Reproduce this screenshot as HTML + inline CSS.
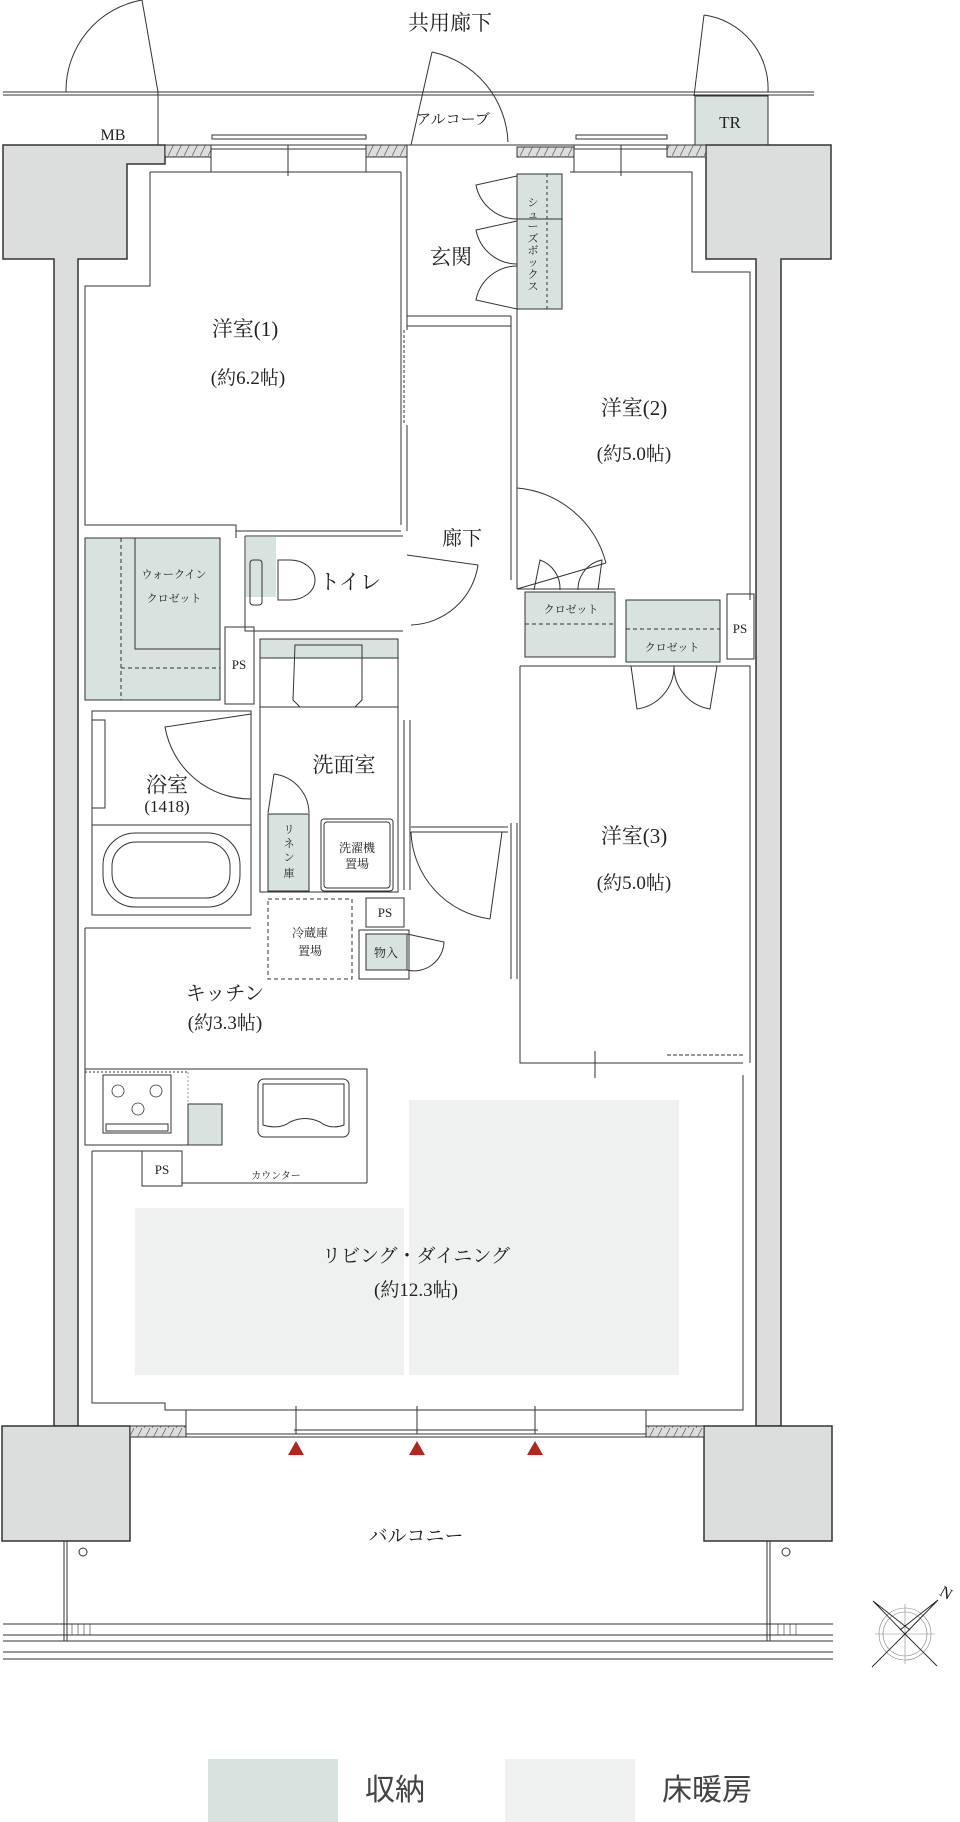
<!DOCTYPE html>
<html><head><meta charset="utf-8"><style>
html,body{margin:0;padding:0;background:#fff;}
svg{display:block;}
text{font-family:"Liberation Serif","Noto Serif CJK SC","Noto Sans CJK JP",serif;fill:#222;}
</style></head><body>
<svg width="960" height="1822" viewBox="0 0 960 1822" xmlns="http://www.w3.org/2000/svg">
<defs>
<pattern id="h" width="8" height="12" patternUnits="userSpaceOnUse"><rect width="8" height="12" fill="#dcdddd"/><line x1="0" y1="12" x2="6" y2="0" stroke="#555" stroke-width="0.7"/></pattern>
</defs>
<g stroke="#333" stroke-width="1" fill="none">
<!-- corridor -->
<line x1="3" y1="92" x2="814" y2="92"/><line x1="3" y1="95" x2="814" y2="95"/>
<path d="M66,92 A92,92 0 0 1 142,0"/><line x1="142" y1="0" x2="158" y2="92"/>
<line x1="158" y1="92" x2="158" y2="145"/>
<rect x="695" y="96" width="73" height="49" fill="#d8e3e0"/>
<path d="M768,92 A74,74 0 0 0 704,15"/><line x1="704" y1="15" x2="694" y2="96"/>
<path d="M508,142 A96,96 0 0 0 432,52"/><line x1="432" y1="52" x2="411" y2="145"/>
<!-- top wall -->
<line x1="3" y1="145" x2="831" y2="145"/>
<path d="M3,145 H165 V164 H127 V259 H78 V1426 H54 V259 H3 Z" fill="#dcdddd" stroke-width="1.5"/>
<path d="M706,145 H831 V259 H781 V1426 H756 V259 H706 Z" fill="#dcdddd" stroke-width="1.5"/>
<rect x="165" y="145" width="46" height="12" fill="url(#h)"/>
<rect x="366" y="145" width="41" height="12" fill="url(#h)"/>
<rect x="517" y="147" width="57" height="10" fill="url(#h)"/>
<rect x="667" y="145" width="39" height="12" fill="url(#h)"/>
<rect x="212" y="135" width="154" height="4"/><rect x="576" y="135" width="91" height="4"/>
<line x1="211" y1="149" x2="366" y2="149"/><line x1="574" y1="149" x2="667" y2="149"/>
<line x1="211" y1="145" x2="211" y2="172"/><line x1="366" y1="145" x2="366" y2="172"/>
<line x1="288" y1="145" x2="288" y2="176"/><line x1="621" y1="145" x2="621" y2="176"/>
<line x1="574" y1="145" x2="574" y2="172"/>
<!-- room1 -->
<path d="M150,172 H401 M150,172 V286 H85 V525 H236 V531 H401 M401,172 V525 M407,157 V330 M407,425 V531"/>
<line x1="404" y1="330" x2="404" y2="425" stroke-dasharray="3,2"/>
<!-- genkan -->
<line x1="407" y1="316" x2="511" y2="316"/><line x1="407" y1="326" x2="511" y2="326"/>
<rect x="517" y="174" width="45" height="135" fill="#d8e3e0"/>
<line x1="517" y1="219" x2="562" y2="219"/><line x1="547" y1="174" x2="547" y2="309" stroke-dasharray="3,3"/>
<path d="M517,176 L476,185 A42,42 0 0 0 517,219"/>
<path d="M517,221 L476,230 A42,42 0 0 0 517,264"/>
<path d="M517,309 L476,300 A42,42 0 0 1 517,266"/>
<path d="M511,316 V580 M517,309 V589"/>
<!-- room2 -->
<path d="M570,172 H692 V272 H750 V600 M517,589 H615"/>
<path d="M517,488 A101,101 0 0 1 606,563"/><line x1="517" y1="589" x2="606" y2="563"/>
<path d="M534,590 L540,560 A30,30 0 0 1 560,590 M598,590 L602,560 A30,30 0 0 0 578,590"/>
<!-- closets -->
<rect x="525" y="592" width="90" height="65" fill="#d8e3e0"/><line x1="525" y1="624" x2="615" y2="624" stroke-dasharray="4,3"/>
<rect x="626" y="600" width="94" height="62" fill="#d8e3e0"/><line x1="626" y1="629" x2="720" y2="629" stroke-dasharray="4,3"/>
<rect x="727" y="594" width="27" height="65"/>
<!-- room3 -->
<path d="M520,666 H750 V1063 M520,666 V1063 H667"/>
<path d="M631,666 L637,709 A43,43 0 0 0 674,666 A43,43 0 0 0 710,709 L717,666"/>
<line x1="667" y1="1055" x2="743" y2="1055" stroke-dasharray="4,2"/><line x1="667" y1="1063" x2="743" y2="1063"/>
<line x1="595" y1="1051" x2="595" y2="1078"/><line x1="585" y1="1063" x2="605" y2="1063"/>
<path d="M511,823 V979 M517,823 V979 M411,827 H508 M411,832 H508"/>
<path d="M411,832 A91,91 0 0 0 490,919"/><line x1="502" y1="832" x2="490" y2="919"/>
<!-- toilet door -->
<path d="M407,555 L478,565 A70,70 0 0 1 411,625"/>
<!-- WIC -->
<rect x="85" y="538" width="135" height="162" fill="#d8e3e0"/>
<path d="M135,538 V649 H220" />
<line x1="121" y1="538" x2="121" y2="700" stroke-dasharray="4,3"/>
<line x1="121" y1="668" x2="220" y2="668" stroke-dasharray="4,3"/>
<rect x="225" y="627" width="29" height="77"/>
<!-- toilet -->
<path d="M236,531 V538 M245,536 H403 M245,536 V631 H403"/>
<rect x="246" y="537" width="30" height="60" fill="#d8e3e0" stroke="none"/>
<rect x="250" y="560" width="12" height="45" rx="3"/>
<path d="M278,560 H290 A25,20 0 0 1 290,600 H278 Z"/>
<!-- washroom -->
<rect x="260" y="639" width="138" height="253"/>
<rect x="260" y="639" width="138" height="19" fill="#d8e3e0"/>
<path d="M295,645 H362 V700 L355,707 H300 L293,700 Z"/>
<line x1="260" y1="707" x2="398" y2="707"/>
<path d="M398,720 V890 M404,720 V890 M410,720 V890"/>
<path d="M274,774 A40,40 0 0 1 309,813"/><line x1="268" y1="813" x2="274" y2="774"/>
<rect x="268" y="814" width="41" height="77" fill="#d8e3e0"/>
<rect x="321" y="819" width="72" height="72" rx="3"/><rect x="324" y="822" width="66" height="66" rx="3"/>
<!-- bath -->
<rect x="92" y="711" width="159" height="204"/>
<line x1="92" y1="825" x2="251" y2="825"/>
<rect x="92" y="720" width="13" height="88"/>
<path d="M251,714 L165,727 A87,87 0 0 0 251,799"/>
<rect x="103" y="833" width="137" height="74" rx="32"/><rect x="112" y="842" width="118" height="56" rx="24"/>
<!-- fridge, PS, 物入 -->
<rect x="268" y="899" width="84" height="80" stroke-dasharray="4,3"/>
<rect x="359" y="930" width="50" height="49"/>
<rect x="366" y="898" width="38" height="29"/>
<rect x="366" y="934" width="41" height="36" fill="#d8e3e0"/>
<path d="M407,934 L444,942 A30,30 0 0 1 407,970"/>
<!-- kitchen -->
<path d="M85,928 H251 M85,928 V1069"/>
<path d="M85,1069 H367 V1183 M85,1069 V1145 H222"/>
<line x1="85" y1="1072" x2="188" y2="1072" stroke-dasharray="2,2"/>
<line x1="188" y1="1072" x2="188" y2="1145" stroke-dasharray="2,2" stroke="#999"/>
<rect x="188" y="1104" width="34" height="41" fill="#d8e3e0"/>
<rect x="103" y="1075" width="68" height="58"/>
<rect x="106" y="1124" width="62" height="7"/>
<g stroke-width="0.8"><circle cx="118" cy="1091" r="6"/><circle cx="156" cy="1091" r="6"/><circle cx="138" cy="1109" r="6"/></g>
<rect x="258" y="1079" width="91" height="58" rx="6"/><path d="M263,1084 H344 V1125 Q330,1130 320,1122 Q305,1115 290,1122 Q280,1130 263,1125 Z"/>
<path d="M92,1151 H142 V1186 H182 V1183 H367"/>
<rect x="142" y="1151" width="40" height="35"/>
<!-- LD -->
<rect x="135" y="1208" width="269" height="167" fill="#eef1f0" stroke="none"/>
<rect x="409" y="1100" width="270" height="275" fill="#eef1f0" stroke="none"/>
<path d="M92,1151 V1403 H165 V1410 H743 V1075"/>
<!-- bottom wall -->
<path d="M2,1426 H54 M78,1426 H130 M704,1426 H756 M781,1426 H832"/>
<path d="M2,1426 H130 V1541 H2 Z" fill="#dcdddd" stroke-width="1.5"/>
<path d="M704,1426 H832 V1541 H704 Z" fill="#dcdddd" stroke-width="1.5"/>
<rect x="130" y="1426" width="56" height="11" fill="url(#h)"/>
<rect x="646" y="1426" width="58" height="11" fill="url(#h)"/>
<path d="M186,1410 V1426 M646,1410 V1426 M186,1434 H646 M186,1437 H646 M294,1430 H538"/>
<path d="M296,1406 V1434 M417,1406 V1434 M535,1406 V1434"/>
<!-- balcony -->
<path d="M64,1541 V1641 M67,1541 V1641 M767,1541 V1641 M770,1541 V1641"/>
<circle cx="83" cy="1552" r="4"/><circle cx="786" cy="1552" r="4"/>
<path d="M3,1624 H833 M3,1635 H833 M3,1641 H833 M3,1652 H833 M3,1659 H833"/>
<path d="M72,1624 V1635 M78,1624 V1635 M84,1624 V1635 M90,1624 V1635 M778,1624 V1635 M784,1624 V1635 M790,1624 V1635 M796,1624 V1635" stroke-width="0.6"/>
<!-- compass -->
<g stroke="#888" stroke-width="0.6"><circle cx="905" cy="1634" r="26"/><circle cx="905" cy="1634" r="22"/><line x1="875" y1="1634" x2="935" y2="1634"/><line x1="905" y1="1604" x2="905" y2="1664"/></g>
<path d="M873,1601 L905,1634 L937,1666 M938,1600 L905,1634 L872,1667 M873,1601 L910,1630 M938,1600 L900,1630" stroke="#222" stroke-width="0.9"/>
</g>
<g fill="#b3261e"><polygon points="296,1441 288,1455 304,1455"/><polygon points="417,1441 409,1455 425,1455"/><polygon points="535,1441 527,1455 543,1455"/></g>
<!-- legend -->
<rect x="208" y="1759" width="130" height="63" fill="#d8e3e0"/>
<rect x="505" y="1759" width="130" height="63" fill="#eef1f0"/>
<g text-anchor="middle">
<text x="450" y="30" font-size="21">共用廊下</text>
<text x="453" y="124" font-size="15">アルコーブ</text>
<text x="113" y="140" font-size="16">MB</text>
<text x="730" y="128" font-size="17">TR</text>
<text x="451" y="264" font-size="21">玄関</text>
<text x="245" y="336" font-size="21">洋室(1)</text>
<text x="248" y="384" font-size="19">(約6.2帖)</text>
<text x="634" y="415" font-size="21">洋室(2)</text>
<text x="634" y="460" font-size="19">(約5.0帖)</text>
<text x="462" y="545" font-size="20">廊下</text>
<text x="174" y="578" font-size="11">ウォークイン</text>
<text x="174" y="602" font-size="11">クロゼット</text>
<text x="350" y="589" font-size="21">トイレ</text>
<text x="571" y="613" font-size="11">クロゼット</text>
<text x="672" y="651" font-size="11">クロゼット</text>
<text x="740" y="633" font-size="13">PS</text>
<text x="239" y="669" font-size="13">PS</text>
<text x="344" y="772" font-size="21">洗面室</text>
<text x="167" y="792" font-size="21">浴室</text>
<text x="167" y="812" font-size="17">(1418)</text>
<text x="357" y="852" font-size="12">洗濯機</text>
<text x="357" y="868" font-size="12">置場</text>
<text x="310" y="937" font-size="12">冷蔵庫</text>
<text x="310" y="955" font-size="12">置場</text>
<text x="385" y="917" font-size="13">PS</text>
<text x="386" y="957" font-size="12">物入</text>
<text x="634" y="843" font-size="21">洋室(3)</text>
<text x="634" y="889" font-size="19">(約5.0帖)</text>
<text x="225" y="1000" font-size="20">キッチン</text>
<text x="225" y="1029" font-size="19">(約3.3帖)</text>
<text x="162" y="1174" font-size="13">PS</text>
<text x="276" y="1179" font-size="10">カウンター</text>
<text x="416" y="1262" font-size="19">リビング・ダイニング</text>
<text x="416" y="1296" font-size="19">(約12.3帖)</text>
<text x="416" y="1542" font-size="19">バルコニー</text>
<text x="946" y="1598" font-size="16" transform="rotate(30 946 1593)">N</text>
</g>
<g font-size="11" text-anchor="middle">
<text x="289" y="833">リ</text><text x="289" y="847">ネ</text><text x="289" y="861">ン</text><text x="289" y="877">庫</text>
<text x="533" y="206">シ</text><text x="533" y="218">ュ</text><text x="533" y="230">ー</text><text x="533" y="242">ズ</text><text x="533" y="254">ボ</text><text x="533" y="266">ッ</text><text x="533" y="278">ク</text><text x="533" y="290">ス</text>
</g>
<text x="395" y="1800" font-size="30" text-anchor="middle" style="font-family:'Noto Sans CJK JP',sans-serif;fill:#444">収納</text>
<text x="707" y="1800" font-size="30" text-anchor="middle" style="font-family:'Noto Sans CJK JP',sans-serif;fill:#444">床暖房</text>
</svg>
</body></html>
